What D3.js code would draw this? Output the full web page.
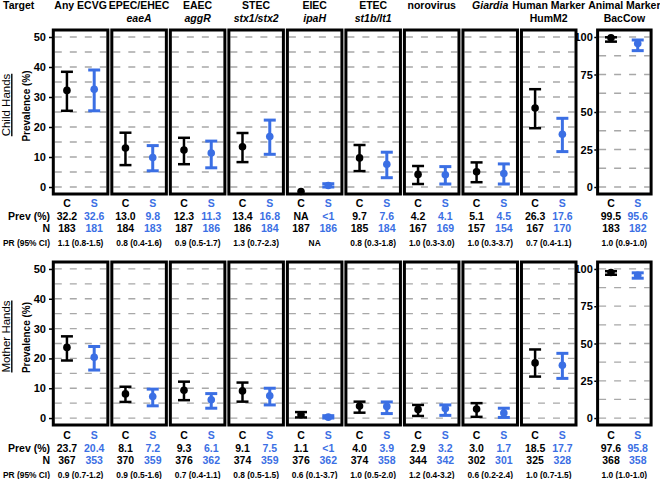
<!DOCTYPE html>
<html><head><meta charset="utf-8">
<script src="https://cdn.jsdelivr.net/npm/d3@7"></script>
<style>
html,body{margin:0;padding:0;background:#fff;}
text{font-family:"Liberation Sans",Arial,sans-serif;}
</style></head>
<body><svg id="chart" width="660" height="479"></svg>
<script>
// ---------- data ----------
const targets = ["Any ECVG","EPEC/EHEC","EAEC","STEC","EIEC","ETEC","norovirus","Giardia","Human Marker","Animal Marker"];
const genes   = ["","eaeA","aggR","stx1/stx2","ipaH","st1b/lt1","","","HumM2","BacCow"];
const italicGene = [false,true,true,true,true,true,false,false,false,false];
const italicTarget = [false,false,false,false,false,false,false,true,false,false];

const leftTicks = [0,10,20,30,40,50];
const rightTicks = [0,25,50,75,100];
const groups = ["C","S"];

// Child hands
const childC_mean = [32.2,13.0,12.3,13.4,-1.5,9.7,4.2,5.1,26.3,99.5];
const childC_lo   = [25.4,7.3,7.6,8.3,null,5.3,1.0,1.6,19.6,96.9];
const childC_hi   = [38.4,18.1,16.4,18.0,null,14.0,7.0,8.2,32.6,99.8];
const childS_mean = [32.6,9.8,11.3,16.8,0.5,7.6,4.1,4.5,17.6,95.6];
const childS_lo   = [25.4,5.4,6.4,10.9,0.0,3.1,1.0,1.0,11.8,90.9];
const childS_hi   = [39.0,13.8,15.3,22.3,1.1,11.6,6.8,7.7,22.9,98.0];
const childC_prev = ["32.2","13.0","12.3","13.4","NA","9.7","4.2","5.1","26.3","99.5"];
const childS_prev = ["32.6","9.8","11.3","16.8","<1","7.6","4.1","4.5","17.6","95.6"];
const childC_N = [183,184,187,186,187,185,167,157,167,183];
const childS_N = [181,183,186,184,186,184,169,154,170,182];
const childPR = ["1.1 (0.8-1.5)","0.8 (0.4-1.6)","0.9 (0.5-1.7)","1.3 (0.7-2.3)","NA","0.8 (0.3-1.8)","1.0 (0.3-3.0)","1.0 (0.3-3.7)","0.7 (0.4-1.1)","1.0 (0.9-1.0)"];

// Mother hands
const motherC_mean = [23.7,8.1,9.3,9.1,1.1,4.0,2.9,3.0,18.5,97.6];
const motherC_lo   = [19.3,5.4,6.0,5.5,0.2,1.8,0.7,0.4,13.9,96.1];
const motherC_hi   = [27.4,10.5,12.2,11.9,2.0,5.5,4.4,5.0,23.0,98.5];
const motherS_mean = [20.4,7.2,6.1,7.5,0.3,3.9,3.2,1.7,17.7,95.8];
const motherS_lo   = [16.1,4.1,3.3,4.4,0.0,1.5,0.9,0.2,13.3,93.8];
const motherS_hi   = [24.0,9.7,8.2,10.0,0.8,5.4,4.4,3.3,21.7,97.4];
const motherC_prev = ["23.7","8.1","9.3","9.1","1.1","4.0","2.9","3.0","18.5","97.6"];
const motherS_prev = ["20.4","7.2","6.1","7.5","<1","3.9","3.2","1.7","17.7","95.8"];
const motherC_N = [367,370,376,374,376,374,344,302,325,368];
const motherS_N = [353,359,362,359,362,358,342,301,328,358];
const motherPR = ["0.9 (0.7-1.2)","0.9 (0.5-1.6)","0.7 (0.4-1.1)","0.8 (0.5-1.5)","0.6 (0.1-3.7)","1.0 (0.5-2.0)","1.2 (0.4-3.2)","0.6 (0.2-2.4)","1.0 (0.7-1.5)","1.0 (1.0-1.0)"];

const rowsData = [
  {label:"Child Hands", Cm:childC_mean, Cl:childC_lo, Ch:childC_hi, Sm:childS_mean, Sl:childS_lo, Sh:childS_hi,
   Cp:childC_prev, Sp:childS_prev, CN:childC_N, SN:childS_N, PR:childPR},
  {label:"Mother Hands", Cm:motherC_mean, Cl:motherC_lo, Ch:motherC_hi, Sm:motherS_mean, Sl:motherS_lo, Sh:motherS_hi,
   Cp:motherC_prev, Sp:motherS_prev, CN:motherC_N, SN:motherS_N, PR:motherPR}
];

// ---------- layout ----------
const BLACK = "#000", BLUE = "#3b6fe4", GRID = "#a8a8a8";
const colors = {C:BLACK, S:BLUE};
const svg = d3.select("#chart");
const FONT = "'Liberation Sans',Arial,sans-serif";

const mainX = d3.scaleBand().domain(targets.slice(0,9)).range([53.3,576]).paddingInner(0.068).paddingOuter(0);
const panelX = t => t === "Animal Marker" ? 597.6 : mainX(t);
const panelW = t => t === "Animal Marker" ? 53.5 : mainX.bandwidth();
const inner = d3.scalePoint().domain(groups).range([0.25,0.75]);

const rowGeom = [{top:30, bot:194}, {top:262, bot:425}];

// header
svg.append("text").attr("x",3).attr("y",9).attr("font-size",10.5).attr("font-weight","bold").text("Target");
targets.forEach((t,i)=>{
  const cx = panelX(t) + panelW(t)/2;
  svg.append("text").attr("x",cx).attr("y",9).attr("text-anchor","middle")
    .attr("font-size",10.5).attr("font-weight","bold").attr("font-style",italicTarget[i]?"italic":"normal").text(t);
  if (genes[i]) svg.append("text").attr("x",cx).attr("y",22).attr("text-anchor","middle")
    .attr("font-size",10.5).attr("font-weight","bold").attr("font-style",italicGene[i]?"italic":"normal").text(genes[i]);
});

rowsData.forEach((row,ri)=>{
  const g = rowGeom[ri];
  const pad = 2.33;
  const yL = d3.scaleLinear().domain([-pad,50+pad]).range([g.bot,g.top]);
  const yR = d3.scaleLinear().domain([-2*pad,100+2*pad]).range([g.bot,g.top]);
  const off = ri===0 ? 0 : 232;

  // left labels
  const cy = (g.top+g.bot)/2 - 7;
  const lab = svg.append("text").attr("transform",`translate(10,${cy}) rotate(-90)`).attr("text-anchor","middle")
    .attr("font-size",11.5).text(row.label);
  const lw = lab.node().getComputedTextLength();
  svg.append("line").attr("x1",11.8).attr("x2",11.8).attr("y1",cy-lw/2).attr("y2",cy+lw/2).attr("stroke","#000").attr("stroke-width",1.4);
  svg.append("text").attr("transform",`translate(29.5,${(g.top+g.bot)/2-6}) rotate(-90)`).attr("text-anchor","middle")
    .attr("font-size",10).attr("font-weight","bold").text("Prevalence (%)");

  // axes
  const axL = svg.append("g").attr("transform",`translate(52,0)`)
    .call(d3.axisLeft(yL).tickValues(leftTicks).tickSize(3).tickPadding(3));
  const axR = svg.append("g").attr("transform",`translate(596.3,0)`)
    .call(d3.axisLeft(yR).tickValues(rightTicks).tickSize(2).tickPadding(1.5));
  [axL,axR].forEach(a=>{
    a.select(".domain").remove();
    a.selectAll("line").attr("stroke","#000").attr("stroke-width",1.5);
    a.selectAll("text").attr("font-size",11).attr("font-weight","bold").attr("font-family",FONT).attr("fill","#000");
  });

  targets.forEach((t,i)=>{
    const x0 = panelX(t), w = panelW(t);
    const y = t==="Animal Marker" ? yR : yL;
    const grid = t==="Animal Marker" ? d3.range(0,100.1,12.5) : d3.range(0,50.1,5);
    const pg = svg.append("g");
    pg.selectAll("line.grid").data(grid).join("line").attr("class","grid")
      .attr("x1",x0+1.5).attr("x2",x0+w-1.5).attr("y1",d=>y(d)).attr("y2",d=>y(d))
      .attr("stroke",GRID).attr("stroke-width",1.3).attr("stroke-dasharray","7,8");
    // error bars
    groups.forEach(gr=>{
      const m = row[gr+"m"][i], lo = row[gr+"l"][i], hi = row[gr+"h"][i];
      const cx = x0 + w*inner(gr);
      const col = colors[gr];
      const sw = gr==="S" ? 3 : 2.5;
      if (lo!=null && hi!=null){
        pg.append("line").attr("x1",cx).attr("x2",cx).attr("y1",y(lo)).attr("y2",y(hi)).attr("stroke",col).attr("stroke-width",sw);
        [lo,hi].forEach(v=>pg.append("line").attr("x1",cx-6).attr("x2",cx+6).attr("y1",y(v)).attr("y2",y(v)).attr("stroke",col).attr("stroke-width",sw));
      }
      pg.append("circle").attr("cx",cx).attr("cy",y(m)).attr("r",3.8).attr("fill",col);
    });
    pg.append("rect").attr("x",x0).attr("y",g.top).attr("width",w).attr("height",g.bot-g.top)
      .attr("fill","none").attr("stroke","#000").attr("stroke-width",3);

    // table text
    groups.forEach(gr=>{
      const cx = x0 + w*inner(gr);
      const col = colors[gr];
      svg.append("text").attr("x",cx).attr("y",207+off).attr("text-anchor","middle").attr("font-size",10.5).attr("font-weight","bold").attr("fill",col).text(gr);
      svg.append("text").attr("x",cx).attr("y",220+off).attr("text-anchor","middle").attr("font-size",10.5).attr("font-weight","bold").attr("fill",col).text(row[gr+"p"][i]);
      svg.append("text").attr("x",cx).attr("y",232+off).attr("text-anchor","middle").attr("font-size",10.5).attr("font-weight","bold").attr("fill",col).text(row[gr+"N"][i]);
    });
    svg.append("text").attr("x",x0+w/2).attr("y",245.5+off).attr("text-anchor","middle").attr("font-size",8.4).attr("font-weight","bold").text(row.PR[i]);
  });

  svg.append("text").attr("x",50).attr("y",220+off).attr("text-anchor","end").attr("font-size",10.5).attr("font-weight","bold").text("Prev (%)");
  svg.append("text").attr("x",50).attr("y",232+off).attr("text-anchor","end").attr("font-size",10.5).attr("font-weight","bold").text("N");
  svg.append("text").attr("x",50).attr("y",245.5+off).attr("text-anchor","end").attr("font-size",8.4).attr("font-weight","bold").text("PR (95% CI)");
});
</script></body></html>
